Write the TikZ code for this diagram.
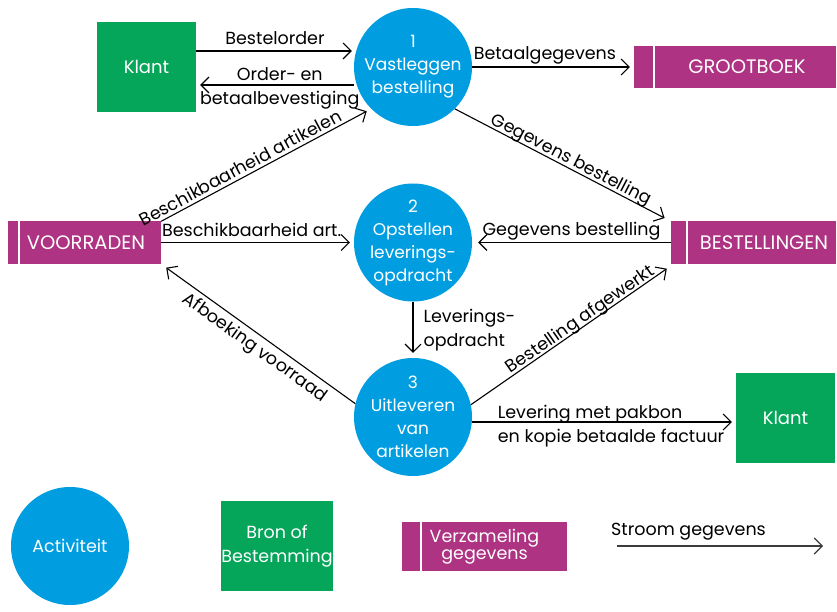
\documentclass[tikz,border=0pt]{standalone}
\usepackage{fontspec}
\setmainfont{Poppins}
\usetikzlibrary{arrows.meta,calc}
\definecolor{procblue}{RGB}{0,158,224}
\definecolor{storepurple}{RGB}{174,51,130}
\definecolor{entgreen}{RGB}{5,165,90}
\definecolor{legendarrow}{RGB}{60,60,60}
\begin{document}
\begin{tikzpicture}[x=1pt,y=-1pt,
  every node/.style={font=\fontsize{17.5}{21}\selectfont},
  proc/.style={circle, fill=procblue, text=white, minimum size=118pt, inner sep=-16pt, align=center, font=\fontsize{17}{23}\selectfont},
  entity/.style={rectangle, fill=entgreen, text=white, minimum width=99pt, minimum height=90pt, inner sep=0pt, align=center, font=\fontsize{18}{24}\selectfont},
  store/.style={rectangle, fill=storepurple, text=white, minimum height=42pt, inner sep=0pt, font=\fontsize{19.5}{22}\selectfont,
    path picture={\draw[white,line width=2pt] ([xshift=#1]path picture bounding box.north west) -- ([xshift=#1]path picture bounding box.south west);}},
  flow/.style={draw=black, line width=1.1pt, -{Straight Barb[length=8pt,width=16pt,line width=1.1pt]}},
  rflow/.style={draw=black, line width=1.1pt, {Straight Barb[length=8pt,width=16pt,line width=1.1pt]}-},
  lbl/.style={inner sep=0pt, text depth=0pt},
  lblb/.style={inner sep=0pt},
  legendtxt/.style={font=\fontsize{17.5}{22}\selectfont}
]
\useasboundingbox (0,0) rectangle (837,612);

% sources / destinations
\node[entity] (klant1) at (146.5,67) {Klant};
\node[entity] (klant2) at (785.5,418) {Klant};

% processes
\node[proc] (p1) at (413,67) {1\\Vastleggen\\bestelling};
\node[proc] (p2) at (413,242.5) {2\\Opstellen\\leverings-\\opdracht};
\node[proc] (p3) at (413,417) {3\\Uitleveren\\van\\artikelen};

% data stores
\node[store=20pt, minimum width=202pt] (gb) at (735,67) {\hspace*{24pt}GROOTBOEK};
\node[store=11pt, minimum width=153pt] (vr) at (84.5,242.5) {\hspace*{3pt}VOORRADEN};
\node[store=16pt, minimum width=165pt] (bs) at (753.5,242.5) {\hspace*{21pt}BESTELLINGEN};

% flows
\draw[flow, shorten >=2pt] ([yshift=16pt]klant1.east) -- ([yshift=16pt]klant1.east -| p1.west)
  node[lbl, midway, above=6pt] {Bestelorder};
\draw[flow, shorten >=4pt] ([yshift=-18pt]klant1.east -| p1.west) -- ([yshift=-18pt]klant1.east)
  node[lbl, pos=0.47, above=4pt] {Order- en}
  node[lblb, pos=0.47, below=6pt] {betaalbevestiging};
\draw[flow, shorten >=4pt] (p1.east) -- (gb.west)
  node[lbl, pos=0.45, above=7pt] {Betaalgegevens};
\draw[flow, shorten >=5pt] (vr.north east) -- (p1.south west)
  node[lbl, pos=0.4, sloped, above=3pt] {Beschikbaarheid artikelen};
\draw[flow, shorten >=7pt] (p1.south east) -- (bs.north west)
  node[lbl, pos=0.52, sloped, above=3pt] {Gegevens bestelling};
\draw[flow, shorten >=4pt] (vr.east) -- (p2.west)
  node[lbl, pos=0.47, above=5pt] {Beschikbaarheid art.};
\draw[flow, shorten >=6pt] (bs.west) -- (p2.east)
  node[lbl, midway, above=6pt] {Gegevens bestelling};
\draw[flow, shorten >=5pt] (p2.south) -- (p3.north)
  node[midway, right=10pt, align=left, inner sep=0pt, font=\fontsize{17.5}{24}\selectfont] {Leverings-\\opdracht};
\draw[rflow] ([xshift=5pt,yshift=-4pt]vr.south east) -- (p3.167)
  node[lblb, pos=0.51, sloped, below=4pt] {Afboeking voorraad};
\draw[flow] (p3.12) -- ([xshift=-4pt,yshift=-5pt]bs.south west)
  node[lbl, pos=0.58, sloped, above=2pt] {Bestelling afgewerkt};
\draw[flow, shorten >=4pt] ([yshift=-5pt]p3.east) -- ([yshift=-5pt]p3.east -| klant2.west)
  node[pos=0.095, anchor=base west, yshift=4pt, inner sep=0pt] {Levering met pakbon}
  node[pos=0.095, anchor=north west, yshift=-7pt, inner sep=0pt] {en kopie betaalde factuur};

% legend
\node[proc, legendtxt, text=white] (lact) at (70,546) {Activiteit};
\node[entity, minimum width=112pt, font=\fontsize{17.5}{24}\selectfont] (lbron) at (277,546) {Bron of\\Bestemming};
\node[store=19pt, minimum width=165pt, minimum height=49pt, align=center, font=\fontsize{17.5}{17.5}\selectfont] (lverz) at (484.5,546.5) {Verzameling\\gegevens};
\coordinate (sa) at (617,546);
\coordinate (sb) at (823,546);
\draw[flow, draw=legendarrow, line width=1.4pt] (sa) -- (sb);
\node[legendtxt, anchor=base west, inner sep=0pt] (stroom) at (611,535) {Stroom gegevens};
\end{tikzpicture}
\end{document}
